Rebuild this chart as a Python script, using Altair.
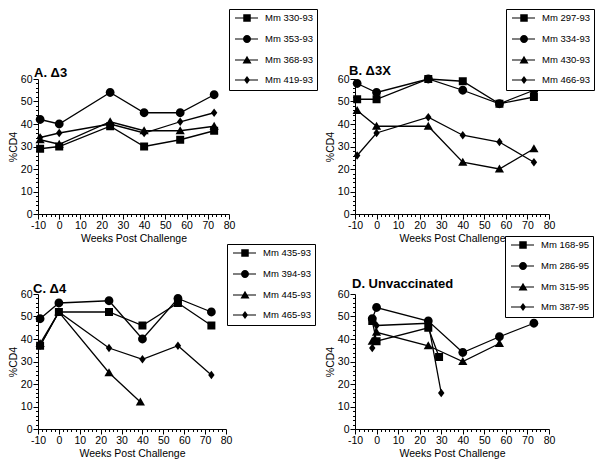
import altair as alt
import pandas as pd

FONT = "Liberation Sans"

# ---------------- data ----------------
A_TITLE = "A. Δ3"
A_NAMES = ["Mm 330-93", "Mm 353-93", "Mm 368-93", "Mm 419-93"]
A_WEEKS = [-9, 0, 24, 40, 57, 73]
A_330 = [29, 30, 39, 30, 33, 37]
A_353 = [42, 40, 54, 45, 45, 53]
A_368 = [33, 31, 41, 37, 37, 39]
A_419 = [34, 36, 40, 36, 41, 45]

B_TITLE = "B. Δ3X"
B_NAMES = ["Mm 297-93", "Mm 334-93", "Mm 430-93", "Mm 466-93"]
B_WEEKS = [-9, 0, 24, 40, 57, 73]
B_297 = [51, 51, 60, 59, 49, 52]
B_334 = [58, 54, 60, 55, 49, 55]
B_430 = [46, 39, 39, 23, 20, 29]
B_466 = [26, 36, 43, 35, 32, 23]

C_TITLE = "C. Δ4"
C_NAMES = ["Mm 435-93", "Mm 394-93", "Mm 445-93", "Mm 465-93"]
C_WEEKS = [-9, 0, 24, 40, 57, 73]
C_WEEKS_445 = [-9, 0, 24, 39]
C_435 = [37, 52, 52, 46, 56, 46]
C_394 = [49, 56, 57, 40, 58, 52]
C_445 = [38, 52, 25, 12]
C_465 = [37, 52, 36, 31, 37, 24]

D_TITLE = "D. Unvaccinated"
D_NAMES = ["Mm 168-95", "Mm 286-95", "Mm 315-95", "Mm 387-95"]
D_WEEKS_168 = [-2, 0, 24, 29]
D_168 = [48, 39, 45, 32]
D_WEEKS_286 = [-2, 0, 24, 40, 57, 73]
D_286 = [49, 54, 48, 34, 41, 47]
D_WEEKS_315 = [-2, 0, 24, 40, 57]
D_315 = [39, 43, 37, 30, 38]
D_WEEKS_387 = [-2, 0, 24, 30]
D_387 = [36, 46, 47, 16]

X_TICKS = [-10, 0, 10, 20, 30, 40, 50, 60, 70, 80]
Y_TICKS = [0, 10, 20, 30, 40, 50, 60]
X_MINOR = [v for v in range(-10, 81, 2) if v % 10]
Y_MINOR = [v for v in range(0, 61, 2) if v % 10]

X_TITLE = "Weeks Post Challenge"
Y_TITLE = "%CD4"

# marker shapes (plot) and legend symbols (line + marker)
POINT_SHAPES = [
    "M-1,-1H1V1H-1Z",
    "M-1.1,0A1.1,1.1,0,1,1,1.1,0A1.1,1.1,0,1,1,-1.1,0Z",
    "M0,-1.15L1.15,0.9L-1.15,0.9Z",
    "M0,-1.05L0.8,0L0,1.05L-0.8,0Z",
]
LINE_PART = "M-0.6,-0.12H4V0.12H-0.6Z"
LEGEND_SHAPES = [
    LINE_PART + "M1.05,-0.75H2.55V0.75H1.05Z",
    LINE_PART + "M1,0A0.8,0.8,0,1,1,2.6,0A0.8,0.8,0,1,1,1,0Z",
    LINE_PART + "M1.8,-0.85L2.7,0.7L0.9,0.7Z",
    LINE_PART + "M1.8,-0.8L2.4,0L1.8,0.8L1.2,0Z",
]


def table(names, weeks_list, values_list):
    rows = []
    for name, weeks, vals in zip(names, weeks_list, values_list):
        for w, v in zip(weeks, vals):
            rows.append({"series": name, "week": w, "cd4": v})
    return pd.DataFrame(rows)


dfA = table(A_NAMES, [A_WEEKS] * 4, [A_330, A_353, A_368, A_419])
dfB = table(B_NAMES, [B_WEEKS] * 4, [B_297, B_334, B_430, B_466])
dfC = table(C_NAMES, [C_WEEKS, C_WEEKS, C_WEEKS_445, C_WEEKS], [C_435, C_394, C_445, C_465])
dfD = table(D_NAMES, [D_WEEKS_168, D_WEEKS_286, D_WEEKS_315, D_WEEKS_387], [D_168, D_286, D_315, D_387])


def panel(df, names, title, width, legend_x, legend_y, title_y, title_dx):
    xs = alt.Scale(domain=[-10, 80], nice=False, zero=False)
    ys = alt.Scale(domain=[0, 60], nice=False, zero=False)
    major_x = alt.Axis(values=X_TICKS, orient="bottom", title=X_TITLE, tickSize=5,
                       labelPadding=1, titlePadding=3, labelExpr="'' + datum.value",
                       labelFlush=False, labelOverlap=False)
    major_y = alt.Axis(values=Y_TICKS, orient="left", title=Y_TITLE, tickSize=5,
                       labelPadding=1, titlePadding=2, labelOverlap=False)
    minor_x = alt.Axis(values=X_MINOR, orient="bottom", title=None, labels=False,
                       domain=False, tickSize=2.5)
    minor_y = alt.Axis(values=Y_MINOR, orient="left", title=None, labels=False,
                       domain=False, tickSize=2.5)

    lines = alt.Chart(df).mark_line(color="black", strokeWidth=1.3).encode(
        x=alt.X("week:Q", scale=xs, axis=major_x),
        y=alt.Y("cd4:Q", scale=ys, axis=major_y),
        detail="series:N",
        order="week:Q",
    )
    points = alt.Chart(df).mark_point(filled=True, color="black", size=64, opacity=1).encode(
        x=alt.X("week:Q", scale=xs, axis=minor_x),
        y=alt.Y("cd4:Q", scale=ys, axis=minor_y),
        shape=alt.Shape("series:N", scale=alt.Scale(domain=names, range=POINT_SHAPES), legend=None),
    )
    legend_layer = alt.Chart(df).mark_point(
        filled=True, color="black", size=100, opacity=1, clip=True,
    ).encode(
        x=alt.value(-500),
        y=alt.value(-500),
        shape=alt.Shape(
            "series:N",
            scale=alt.Scale(domain=names, range=LEGEND_SHAPES),
            legend=alt.Legend(title=None, orient="none", legendX=legend_x, legendY=legend_y,
                              direction="vertical",
                              labelExpr="datum.label + '\u00a0\u00a0\u00a0'"),
        ),
    )
    t_offset = legend_y - 0.5 - title_y - 11
    return alt.layer(lines, points, legend_layer).resolve_scale(
        shape="independent"
    ).resolve_axis(x="independent", y="independent").resolve_legend(
        shape="independent"
    ).properties(
        width=width, height=135,
        title=alt.TitleParams(title, anchor="start", frame="group", offset=t_offset,
                              baseline="alphabetic", dx=title_dx, font=FONT, fontSize=13,
                              fontWeight="bold", color="black"),
    )


pA = panel(dfA, A_NAMES, A_TITLE, 191, 191, -70, 0, -4)
pB = panel(dfB, B_NAMES, B_TITLE, 194, 151, -70, -2, -6)
pC = panel(dfC, C_NAMES, C_TITLE, 188, 189, -50, 1, -5)
pD = panel(dfD, D_NAMES, D_TITLE, 194, 150, -58, -4, -3)

chart = alt.concat(
    pA, pB, pC, pD, columns=2, spacing={"row": 80, "column": 126}, bounds="flush"
).resolve_scale(
    shape="independent", x="independent", y="independent"
).resolve_legend(shape="independent").properties(
    padding=0, background="white"
).configure_view(stroke=None).configure_axis(
    domainColor="black", tickColor="black", labelColor="black", titleColor="black",
    labelFont=FONT, titleFont=FONT, labelFontSize=10.5, titleFontSize=10.5,
    titleFontWeight="normal", grid=False, domainWidth=1, tickWidth=1,
).configure_legend(
    strokeColor="black", strokeWidth=1, fillColor="white", padding=3, cornerRadius=0,
    rowPadding=7, labelOffset=21, symbolSize=100, symbolStrokeWidth=1.2,
    symbolFillColor="black", symbolStrokeColor="black", symbolOffset=0,
    labelFont=FONT, labelFontSize=9.5, labelColor="black", labelLimit=300,
)

chart.save("out.html", embed_options={"renderer": "svg", "actions": False})
